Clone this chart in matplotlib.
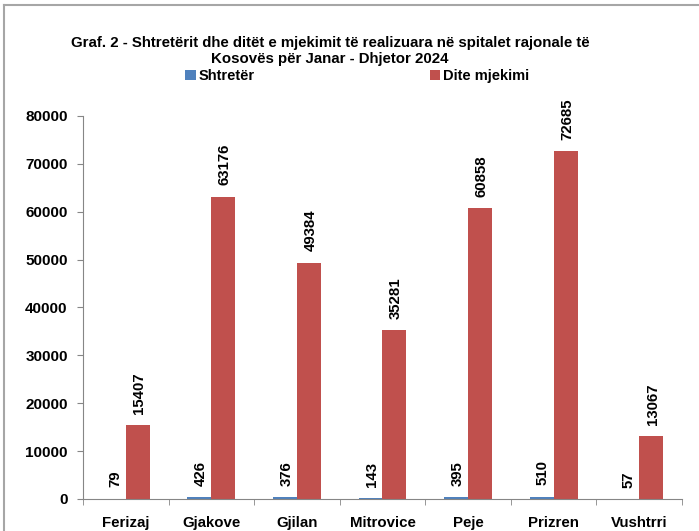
import numpy as np
import matplotlib.pyplot as plt
from matplotlib.lines import Line2D

cities = ['Ferizaj', 'Gjakove', 'Gjilan', 'Mitrovice', 'Peje', 'Prizren', 'Vushtrri']
shtreter = [79, 426, 376, 143, 395, 510, 57]
dite_mjekimi = [15407, 63176, 49384, 35281, 60858, 72685, 13067]
yticks = [0, 10000, 20000, 30000, 40000, 50000, 60000, 70000, 80000]

title = ('Graf. 2 - Shtretërit dhe ditët e mjekimit të realizuara në spitalet rajonale të\n'
         'Kosovës për Janar - Dhjetor 2024')

plt.rcParams['font.family'] = ['Liberation Sans Narrow', 'Liberation Sans', 'DejaVu Sans']
plt.rcParams['font.weight'] = 'bold'
num_font = ['Liberation Sans', 'DejaVu Sans']

blue = '#4F81BD'
red = '#C0504D'
axis_grey = '#868686'

fig = plt.figure(figsize=(6.99, 5.31), dpi=100)
ax = fig.add_axes([0.1187, 0.0603, 0.857, 0.7213])

x = np.arange(len(cities))
w = 0.28
b1 = ax.bar(x - w / 2, shtreter, w, color=blue, label='Shtretër')
b2 = ax.bar(x + w / 2, dite_mjekimi, w, color=red, label='Dite mjekimi')

for bars, vals in ((b1, shtreter), (b2, dite_mjekimi)):
    for r, v in zip(bars, vals):
        ax.annotate(str(v), (r.get_x() + r.get_width() / 2, v),
                    xytext=(1, 8), textcoords='offset points',
                    ha='center', va='bottom', rotation=90,
                    fontsize=10.8, fontweight='bold', annotation_clip=False,
                    family=num_font)

ax.set_xlim(-0.5, len(cities) - 0.5)
ax.set_ylim(0, 80000)
ax.set_yticks(yticks)
ax.set_yticklabels([str(t) for t in yticks], fontsize=11, fontweight='bold',
                   family=num_font)
ax.set_xticks(x)
ax.set_xticklabels(cities, fontsize=10.8, fontweight='bold', family=num_font)
ax.set_xticks(np.arange(-0.5, len(cities)), minor=True)
ax.tick_params(axis='x', which='major', length=0, pad=12)
ax.tick_params(axis='x', which='minor', length=4, color=axis_grey, direction='out')
ax.tick_params(axis='y', length=4, color=axis_grey, pad=7)

for s in ('top', 'right'):
    ax.spines[s].set_visible(False)
for s in ('left', 'bottom'):
    ax.spines[s].set_color(axis_grey)
    ax.spines[s].set_linewidth(0.8)

fig.text(0.472, 0.904, title, ha='center', va='center', fontsize=10.85,
         fontweight='bold', linespacing=1.25)

fig.legend(handles=[b1, b2], loc='center', bbox_to_anchor=(0.511, 0.857),
           ncol=2, frameon=False, handlelength=0.7,
           handleheight=0.7, handletextpad=0.2, columnspacing=12.0,
           prop={'weight': 'bold', 'size': 10.5})

# outer frame
fig.add_artist(Line2D([0.006, 0.006], [0, 0.99], color='#A6A6A6', lw=1.5,
                      transform=fig.transFigure))
fig.add_artist(Line2D([0.006, 1], [0.99, 0.99], color='#A6A6A6', lw=1.5,
                      transform=fig.transFigure))

fig.savefig('out.png', dpi=100)
